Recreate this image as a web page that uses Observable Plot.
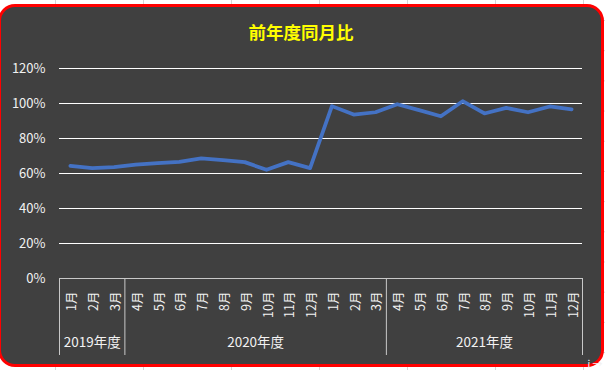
<!DOCTYPE html>
<html>
<head>
<meta charset="utf-8">
<script src="https://cdn.jsdelivr.net/npm/d3@7"></script>
<script src="https://cdn.jsdelivr.net/npm/@observablehq/plot@0.6"></script>
<style>
  html, body { margin: 0; padding: 0; width: 605px; height: 370px; overflow: hidden; }
  body {
    position: relative;
    background-color: #ffffff;
    background-image:
      linear-gradient(to right, #d6d6d6 1px, transparent 1px),
      linear-gradient(to bottom, #d6d6d6 1px, transparent 1px);
    background-size: 88px 100%, 100% 30.2px;
    background-position: 55px 0, 0 20px;
  }
  #box {
    position: absolute; box-sizing: border-box;
    left: -2px; top: 4px; width: 605.5px; height: 362.5px;
    border: 3.5px solid #ff0000; border-radius: 17px;
    background: #404040;
  }
  #title {
    position: absolute; left: 0; top: 21px; width: 602px;
    text-align: center; line-height: 22px;
    font-family: "Noto Sans CJK JP", "Noto Sans", sans-serif;
    font-weight: bold; font-size: 17.5px; color: #ffff00;
  }
  #chart { position: absolute; left: 0; top: 0; }
</style>
</head>
<body>
<div id="box"></div>
<div id="title">前年度同月比</div>
<div id="chart"></div>
<script>
// ---- data ----
const months = ["1月","2月","3月",
  "4月","5月","6月","7月","8月","9月","10月","11月","12月","1月","2月","3月",
  "4月","5月","6月","7月","8月","9月","10月","11月","12月"];
const fiscalYears = ["2019年度","2019年度","2019年度",
  "2020年度","2020年度","2020年度","2020年度","2020年度","2020年度","2020年度","2020年度","2020年度","2020年度","2020年度","2020年度",
  "2021年度","2021年度","2021年度","2021年度","2021年度","2021年度","2021年度","2021年度","2021年度"];
const ratios = [0.644, 0.631, 0.637,
  0.651, 0.659, 0.667, 0.686, 0.676, 0.665, 0.621, 0.665, 0.631, 0.985, 0.937, 0.950,
  0.996, 0.962, 0.927, 1.013, 0.943, 0.975, 0.950, 0.983, 0.967];
const yTicks = [0, 0.2, 0.4, 0.6, 0.8, 1.0, 1.2];
const yTickLabels = ["0%", "20%", "40%", "60%", "80%", "100%", "120%"];

// ---- derived tables ----
const rows = ratios.map((v, i) => ({i, month: months[i], fy: fiscalYears[i], v}));
const groups = [];
fiscalYears.forEach((fy, i) => {
  const g = groups[groups.length - 1];
  if (g && g.fy === fy) g.end = i; else groups.push({fy, start: i, end: i});
});
const boundaries = groups.map(g => g.start - 0.5).concat([groups[groups.length - 1].end + 0.5]);

const font = '"Noto Sans CJK JP", "Noto Sans", sans-serif';
const chart = Plot.plot({
  width: 605, height: 370,
  marginLeft: 59, marginRight: 23, marginTop: 68, marginBottom: 92,
  style: {background: "transparent", fontFamily: font, color: "#f2f2f2", overflow: "visible"},
  x: {type: "linear", domain: [-0.5, rows.length - 0.5], axis: null},
  y: {domain: [0, 1.2], axis: null},
  marks: [
    Plot.ruleY(yTicks.filter(t => t > 0), {stroke: "#ffffff", strokeWidth: 1}),
    Plot.ruleY([0], {stroke: "#c8c8c8", strokeWidth: 1}),
    Plot.axisX({ticks: boundaries, tickSize: 77, tickFormat: () => "", stroke: "#c8c8c8"}),
    Plot.text(yTicks, {y: d => d, frameAnchor: "left", dx: -14, textAnchor: "end",
      text: (d, i) => yTickLabels[i], fill: "#f2f2f2", fontSize: 13}),
    Plot.text(rows, {x: "i", frameAnchor: "bottom", dy: 13, dx: 2, rotate: -90,
      textAnchor: "end", lineAnchor: "middle", text: "month", fill: "#f2f2f2", fontSize: 12.5}),
    Plot.text(groups, {x: g => (g.start + g.end) / 2, frameAnchor: "bottom", dy: 64,
      lineAnchor: "middle", text: "fy", fill: "#f2f2f2", fontSize: 13.5}),
    Plot.line(rows, {x: "i", y: "v", stroke: "#4472c4", strokeWidth: 3.75,
      strokeLinejoin: "round", strokeLinecap: "round"})
  ]
});
document.getElementById("chart").appendChild(chart);
</script>
</body>
</html>
